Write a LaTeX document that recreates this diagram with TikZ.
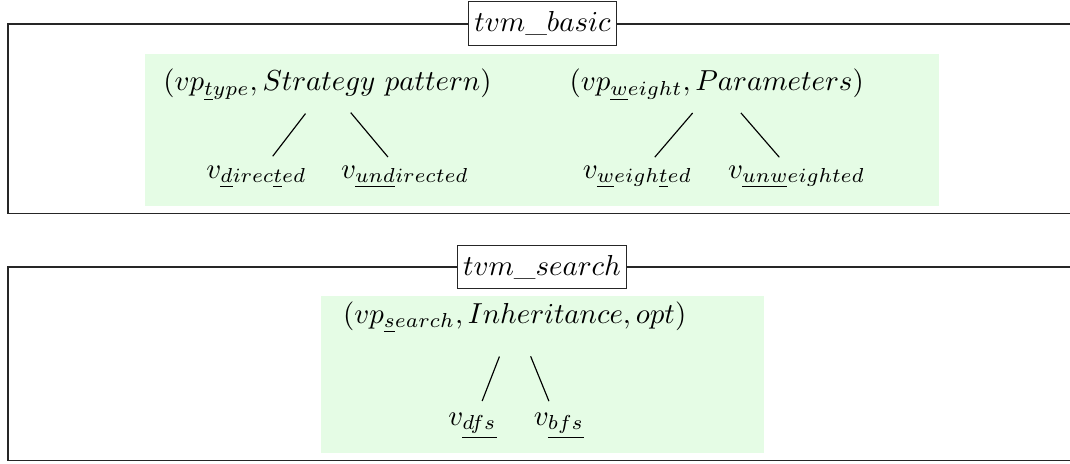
\documentclass[tikz,border=0pt]{standalone}
\definecolor{panelgreen}{RGB}{229,252,229}
\begin{document}
\begin{tikzpicture}[x=0.346pt,y=-0.346pt,
  frame/.style={draw=black!85},
  title/.style={draw=black!85, fill=white, inner xsep=2pt, inner ysep=3.4pt},
  panel/.style={fill=panelgreen},
  label/.style={anchor=base, inner sep=0pt},
  branch/.style={shorten >=9.2pt}]
\useasboundingbox (0,0) rectangle (1070,463);

% --- module tvm_basic ---
\draw[frame] (1070,24) -- (8,24) -- (8,213.5) -- (1070,213.5);
\fill[panel] (145,54) rectangle (939,206);
\node[title] (t1) at (542.5,23.5) {$tvm\_basic$};

\node[label] (p1) at (327.5,90.7) {$(vp_{\underline{t}ype}, Strategy\ pattern)$};
\node[label] (c11) at (256.5,178.5) {$v_{\underline{d}irec\underline{t}ed}$};
\node[label] (c12) at (405,178.5) {$v_{\underline{un}\underline{d}irected}$};
\draw[branch, shorten <=12.5pt] (p1.center) -- (c11.center);
\draw[branch, shorten <=12.5pt] (p1.center) -- (c12.center);

\node[label] (p2) at (716.7,90.7) {$(vp_{\underline{w}eight}, Parameters)$};
\node[label] (c21) at (637.5,178.5) {$v_{\underline{w}eigh\underline{t}ed}$};
\node[label] (c22) at (796.7,178.5) {$v_{\underline{un}\underline{w}eighted}$};
\draw[branch, shorten <=12.8pt] (p2.center) -- (c21.center);
\draw[branch, shorten <=12.8pt] (p2.center) -- (c22.center);

% --- module tvm_search ---
\draw[frame] (1070,267) -- (8,267) -- (8,460.5) -- (1070,460.5);
\fill[panel] (321,296) rectangle (764,453);
\node[title] (t2) at (542,267) {$tvm\_search$};

\node[label] (p3) at (514.7,323) {$(vp_{\underline{s}earch}, Inheritance, opt)$};
\node[label] (c31) at (472.5,425) {$v_{\underline{dfs}}$};
\node[label] (c32) at (559,425) {$v_{\underline{bfs}}$};
\draw[branch, shorten <=14.6pt] (p3.center) -- (c31.center);
\draw[branch, shorten <=14.6pt] (p3.center) -- (c32.center);
\end{tikzpicture}
\end{document}
